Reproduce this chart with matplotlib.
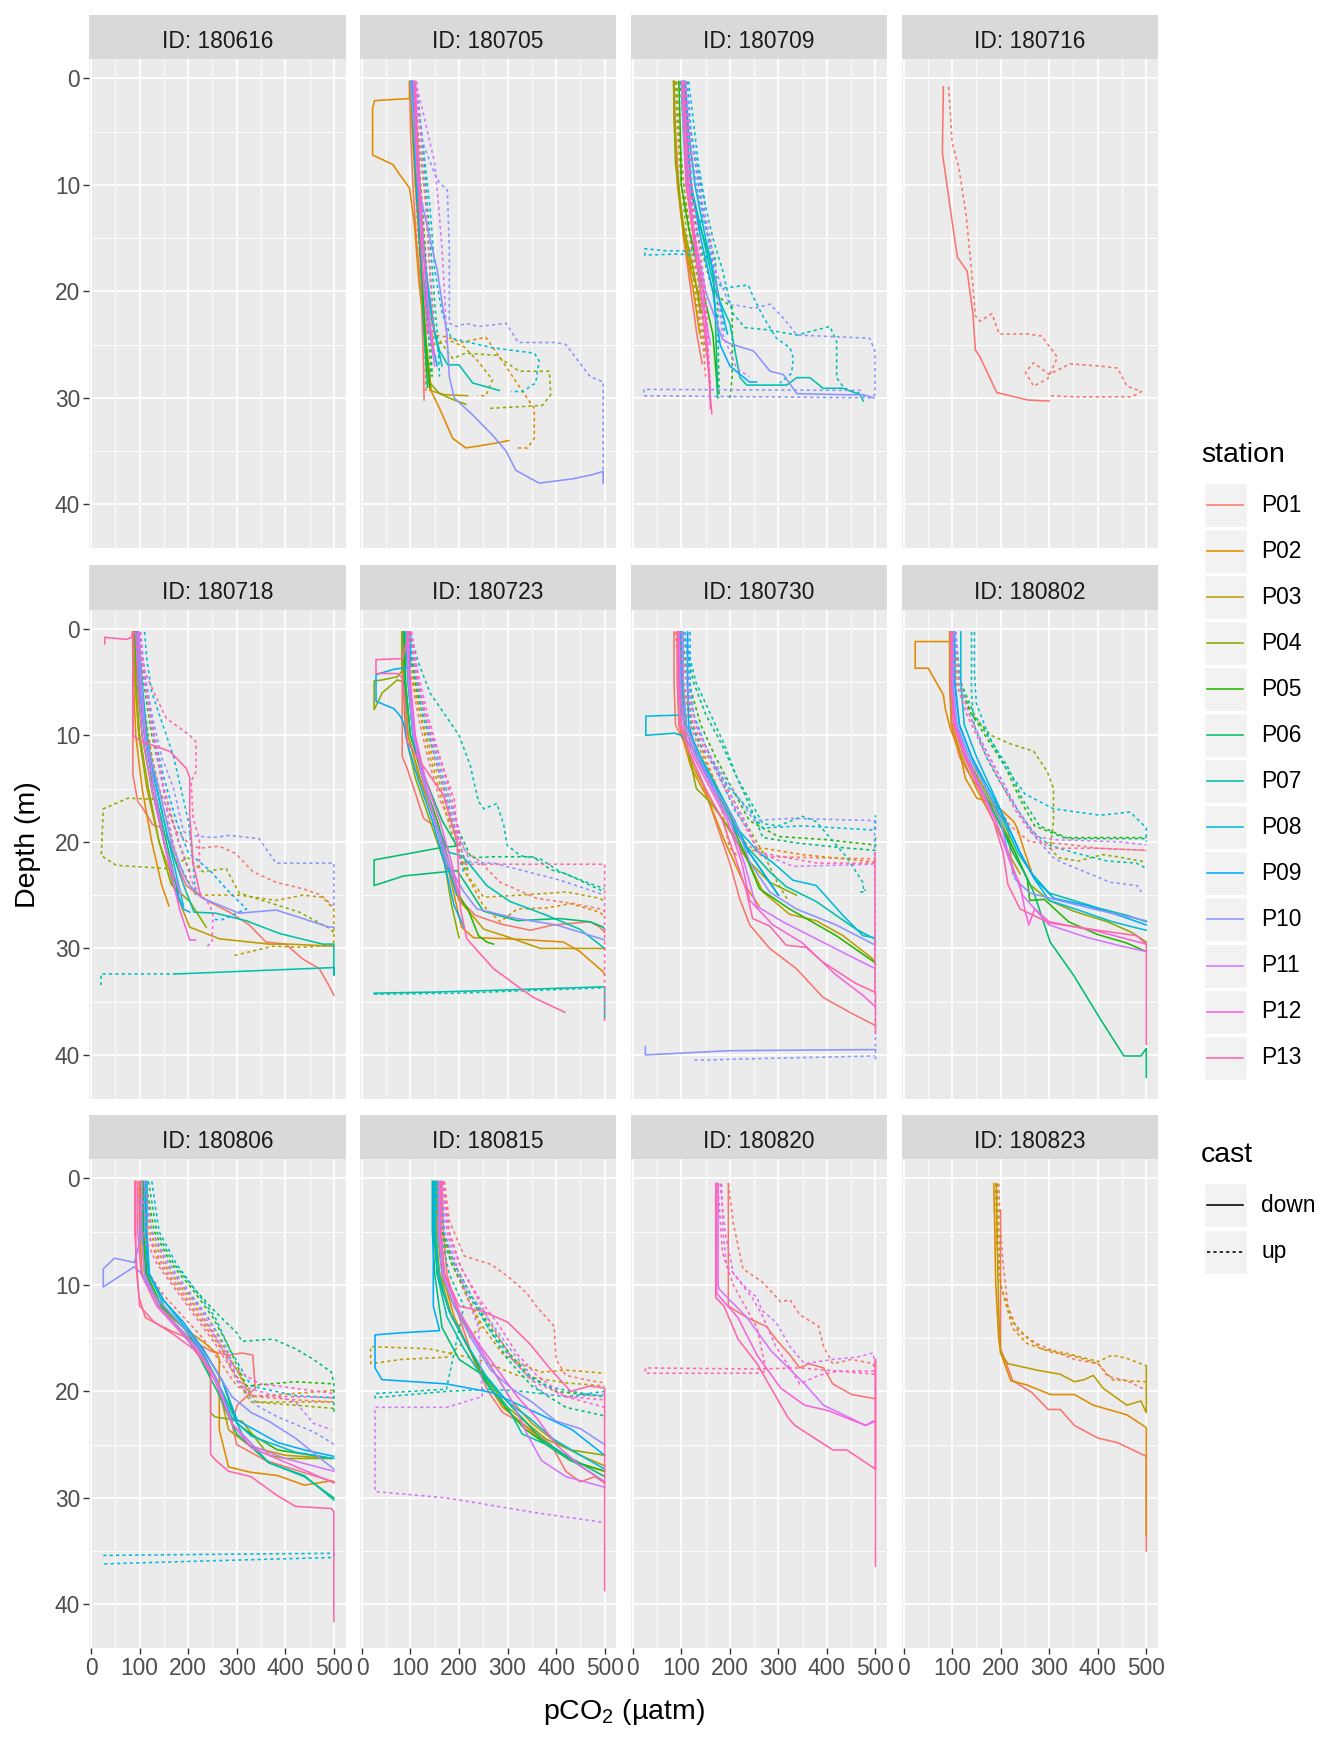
import matplotlib
matplotlib.use("Agg")
import matplotlib.pyplot as plt
from matplotlib.patches import Rectangle

plt.rcParams["font.family"] = ["Liberation Sans", "DejaVu Sans"]
plt.rcParams["mathtext.fontset"] = "custom"
plt.rcParams["mathtext.rm"] = "Liberation Sans"

# ---- categories ----
stations = ["P01", "P02", "P03", "P04", "P05", "P06", "P07",
            "P08", "P09", "P10", "P11", "P12", "P13"]
station_colors = ["#F8766D", "#E18A00", "#BE9C00", "#8CAB00", "#24B700", "#00BE70", "#00C1AB",
                  "#00BBDA", "#00ACFC", "#8B93FF", "#D575FE", "#F962DD", "#FF65AC"]
casts = ["down", "up"]
panel_ids = ["180616", "180705", "180709", "180716",
             "180718", "180723", "180730", "180802",
             "180806", "180815", "180820", "180823"]

# ---- profiles: (station, cast, pCO2, depth) ----
d180616 = []

d180705 = [
    ("P01", "down", [98, 100, 105, 112, 122, 127, 128], [0.3, 5, 10, 15, 20, 27, 30.2]),
    ("P01", "up", [100, 104, 110, 116, 125, 130, 132], [0.3, 5, 10, 15, 20, 26, 29.5]),
    ("P02", "down", [98, 98, 26, 22, 22, 64, 77, 98, 108, 118, 136, 143, 160, 187, 214, 269, 303],
     [0.3, 1.9, 2.1, 2.8, 7.2, 8.1, 9.0, 10.3, 13.7, 19.4, 26.3, 29.4, 31, 33.8, 34.7, 34.3, 34.0]),
    ("P02", "up", [102, 108, 115, 125, 135, 177, 205, 255, 290, 331, 355, 355, 341, 317],
     [0.3, 5, 10, 18, 24, 24.3, 24.8, 24.3, 26.6, 29.4, 31, 33.8, 34.7, 34.7]),
    ("P03", "down", [100, 104, 110, 118, 125, 132, 140, 170, 218], [0.3, 5, 10, 15, 20, 26, 29.3, 29.7, 29.8]),
    ("P03", "up", [104, 112, 125, 135, 150, 180, 210, 238, 269, 255, 238],
     [0.3, 6, 12, 20, 25, 24.6, 25.2, 26.5, 28.3, 29.8, 29.8]),
    ("P04", "down", [100, 105, 112, 120, 128, 138, 160, 190, 214], [0.3, 5, 10, 15, 22, 28.5, 29.6, 30.2, 30.6]),
    ("P04", "up", [106, 118, 132, 140, 150, 187, 214, 276, 324, 386, 389, 372, 259],
     [0.3, 6, 12, 18, 24, 26.3, 25.8, 26.0, 27.5, 27.5, 29.7, 30.7, 31]),
    ("P05", "down", [102, 106, 112, 120, 125, 132, 140], [0.3, 5, 10, 16, 20, 25, 29]),
    ("P05", "up", [105, 112, 120, 130, 138, 145], [0.3, 5, 10, 16, 22, 28]),
    ("P06", "down", [103, 108, 115, 122, 128, 135], [0.3, 6, 12, 18, 24, 29]),
    ("P06", "up", [108, 118, 128, 135, 142], [0.3, 8, 16, 22, 28]),
    ("P07", "down", [104, 110, 118, 130, 145, 160, 177, 200, 228, 283],
     [0.3, 6, 12, 18, 23, 25.6, 26.9, 26.9, 28.6, 29.3]),
    ("P07", "up", [110, 125, 135, 145, 155, 160], [0.3, 6, 12, 18, 24, 28]),
    ("P08", "down", [105, 112, 120, 132, 150, 165], [0.3, 6, 12, 18, 24, 27]),
    ("P08", "up", [112, 125, 140, 150, 165, 184, 269, 355, 365, 358, 331, 307],
     [0.3, 6, 12, 18, 22, 24.4, 25.3, 25.8, 26.5, 28.6, 29.4, 29.4]),
    ("P09", "down", [103, 108, 115, 125, 140, 155], [0.3, 6, 12, 18, 24, 27]),
    ("P10", "down", [100, 108, 115, 135, 155, 175, 180, 190, 228, 269, 297, 317, 365, 434, 475, 497, 497],
     [0.3, 5, 10, 14, 18, 24, 28, 30, 31.6, 33.5, 35, 36.8, 38, 37.6, 37.2, 36.9, 38]),
    ("P10", "up", [105, 115, 125, 150, 160, 176, 180, 180, 195, 215, 240, 297, 322, 400, 420, 470, 497, 497],
     [0.3, 3, 6, 9, 9.8, 10.5, 16, 23, 23.3, 23, 23.3, 23, 24.8, 24.8, 25, 28, 28.5, 38]),
    ("P11", "down", [106, 112, 120, 130, 140, 150], [0.3, 6, 12, 18, 24, 27]),
    ("P11", "up", [110, 125, 140, 150, 158, 165, 170, 175], [0.3, 3, 6, 8, 12, 16, 20, 25]),
    ("P12", "down", [110, 115, 122, 130, 140, 150], [0.3, 6, 12, 18, 23, 26]),
    ("P12", "up", [112, 122, 132, 140, 148], [0.3, 6, 12, 18, 24]),
    ("P13", "down", [108, 112, 118, 125, 135], [0.3, 6, 12, 18, 24]),
]

d180709 = [
    ("P01", "down", [85, 88, 95, 105, 120, 132, 143], [0.3, 5, 10, 15, 20, 24, 26.8]),
    ("P01", "up", [90, 95, 105, 118, 132, 145, 150], [0.3, 5, 10, 15, 20, 25, 28]),
    ("P02", "down", [84, 86, 92, 105, 125, 138], [0.3, 5, 10, 15, 20, 24]),
    ("P03", "down", [84, 86, 90, 100, 120, 135, 140], [0.3, 4, 8, 13, 18, 20, 22]),
    ("P03", "up", [88, 92, 100, 112, 128, 142], [0.3, 5, 10, 15, 20, 25]),
    ("P04", "down", [85, 86, 88, 105, 125, 140], [0.3, 4, 8, 14, 18, 22]),
    ("P04", "up", [90, 95, 105, 120, 138, 150], [0.3, 5, 10, 15, 20, 26]),
    ("P05", "down", [95, 98, 100, 115, 130, 150, 165, 175], [0.3, 5, 10, 14, 17, 21, 24, 29.5]),
    ("P05", "up", [98, 105, 115, 135, 165, 190, 205, 205, 200], [0.3, 5, 10, 15, 20, 21, 21.5, 28, 30]),
    ("P06", "down", [100, 105, 115, 140, 165, 170, 175], [0.3, 5, 10, 14, 18, 22, 30]),
    ("P06", "up", [100, 115, 130, 150, 170, 175, 178], [0.3, 5, 10, 14, 17, 22, 30]),
    ("P07", "down", [105, 110, 120, 145, 170, 190, 200, 221, 235, 317, 338, 365, 392, 433, 468, 475],
     [0.3, 5, 10, 15, 20, 22, 23, 28.1, 28.8, 28.8, 28.1, 28.1, 29.1, 29.1, 29.7, 30.3]),
    ("P07", "up", [105, 120, 140, 165, 185, 205, 231, 276, 338, 406, 420, 420, 436, 475, 480],
     [0.3, 5, 10, 15, 18, 22, 23.4, 23.6, 24.1, 23.3, 24.7, 28.1, 29.1, 29.7, 30.2]),
    ("P08", "down", [108, 115, 128, 150, 175, 195], [0.3, 5, 10, 15, 20, 24]),
    ("P08", "up", [115, 125, 135, 150, 122, 70, 25, 25, 90, 150, 170, 187, 238, 249, 269, 296, 324, 331, 327, 303],
     [0.3, 4, 8, 12, 16.2, 16.2, 16.0, 16.6, 16.5, 16.6, 19, 19.7, 19.4, 20.6, 22.4, 24.4, 25.3, 26.3, 27.7, 28.6]),
    ("P09", "down", [108, 112, 120, 140, 165, 180, 200, 240, 255], [0.3, 5, 10, 15, 20, 25, 27, 28.5, 28.5]),
    ("P09", "up", [112, 120, 135, 155, 175, 190], [0.3, 5, 10, 15, 20, 24]),
    ("P10", "down", [100, 104, 110, 128, 150, 185, 200, 249, 283, 310, 338, 434, 475, 497],
     [0.3, 5, 10, 15, 20, 24.5, 24.9, 25.6, 27.5, 27.8, 29.6, 29.7, 29.7, 30]),
    ("P10", "up", [104, 115, 130, 150, 170, 200, 214, 250, 283, 310, 338, 488, 499, 499, 490, 23, 23, 470],
     [0.3, 5, 10, 14, 18, 21.3, 21.3, 21.6, 21.2, 22.5, 24.1, 24.4, 25.6, 29.7, 30.0, 29.8, 29.2, 29.3]),
    ("P11", "down", [102, 106, 112, 125, 140, 160], [0.3, 5, 10, 15, 20, 25]),
    ("P11", "up", [110, 118, 130, 145, 160, 185, 215, 240], [0.3, 5, 8, 12, 15, 24, 27.3, 28]),
    ("P12", "down", [104, 110, 115, 128, 145, 158, 160], [0.3, 5, 10, 15, 20, 28, 31]),
    ("P12", "up", [108, 115, 122, 135, 150, 158], [0.3, 5, 10, 15, 20, 28]),
    ("P13", "down", [104, 107, 110, 125, 140, 157, 160, 163], [0.3, 5, 10, 15, 20, 28, 30, 31.5]),
    ("P13", "up", [106, 112, 118, 130, 148, 160], [0.3, 5, 10, 15, 20, 29]),
]

d180716 = [
    ("P01", "down", [82, 80, 100, 111, 131, 143, 148, 158, 192, 256, 300],
     [0.8, 7, 13.4, 16.8, 18.1, 22.1, 25.5, 26.2, 29.5, 30.2, 30.3]),
    ("P01", "up", [93, 100, 114, 129, 143, 148, 158, 182, 197, 256, 285, 317, 297, 268, 251, 268, 300, 343,
                   402, 441, 460, 490, 470, 353, 300],
     [0.8, 6, 8.4, 12.8, 19.5, 22.3, 22.8, 22.1, 24, 24, 24.2, 26.2, 28.2, 28.9, 27.6, 26.7, 27.8, 26.8,
      27, 27.2, 28.9, 29.4, 29.9, 29.9, 29.8]),
]

d180718 = [
    ("P01", "down", [86, 86, 96, 107, 127, 141, 162, 175, 196, 230, 285, 326, 360, 401, 436, 470, 490, 500],
     [0.3, 13.7, 16.2, 16.9, 18.4, 18.6, 20, 21.9, 24.1, 25.3, 26.6, 27.8, 29.4, 29.6, 31, 31.9, 33.5, 34.4]),
    ("P01", "up", [90, 100, 115, 140, 175, 205, 223, 264, 298, 333, 381, 436, 474, 497],
     [0.3, 5, 10, 15, 19, 20.3, 20.6, 20.4, 21.1, 22.8, 23.8, 24.4, 25, 26]),
    ("P02", "down", [85, 87, 92, 105, 125, 145, 160], [0.3, 5, 10, 15, 20, 24, 26]),
    ("P03", "down", [88, 90, 98, 115, 140, 162, 168, 203, 264, 367, 408, 500],
     [0.3, 5, 10, 15, 20, 22.8, 24, 28, 29.1, 29.6, 29.6, 29.8]),
    ("P03", "up", [92, 105, 125, 150, 180, 216, 305, 381, 436, 477, 500, 500, 436, 374, 292],
     [0.3, 6, 12, 17, 22, 25, 25, 25.5, 25, 25.2, 26.3, 29.7, 29.9, 29.8, 30.7]),
    ("P04", "down", [88, 92, 100, 118, 140, 165, 203, 237], [0.3, 5, 10, 15, 20, 24, 25.6, 28]),
    ("P04", "up", [95, 105, 120, 127, 76, 25, 21, 52, 155, 162, 200, 230, 278, 305, 374, 429, 490, 500],
     [0.3, 6, 12, 16, 15.9, 16.9, 21.3, 22.2, 22.5, 22.3, 21.5, 22.8, 22.5, 24.8, 25.8, 26.6, 28.1, 28.5]),
    ("P05", "down", [90, 95, 105, 125, 150, 175], [0.3, 5, 10, 15, 20, 24]),
    ("P05", "up", [95, 108, 125, 150, 180, 205], [0.3, 5, 10, 15, 20, 23]),
    ("P06", "down", [92, 98, 110, 130, 155, 180], [0.3, 5, 10, 15, 20, 25]),
    ("P07", "down", [95, 100, 112, 135, 160, 190, 212, 257, 319, 388, 477, 500, 500, 500, 175],
     [0.3, 5, 10, 15, 20, 24, 26.6, 26.7, 27.4, 28.6, 29.6, 29.6, 32.5, 31.8, 32.4]),
    ("P07", "up", [175, 21, 21], [32.4, 32.4, 33.4]),
    ("P08", "down", [98, 105, 115, 130, 150, 170, 190], [0.3, 5, 10, 14, 18, 22, 26]),
    ("P08", "up", [110, 115, 125, 140, 155, 170, 185, 200, 210, 215], [0.3, 3, 6, 8, 10, 12, 15, 18, 22, 25]),
    ("P09", "down", [96, 100, 110, 130, 150, 170, 190, 203], [0.3, 5, 10, 15, 20, 24, 26.3, 26.6]),
    ("P09", "up", [100, 112, 130, 150, 175, 200, 245, 280, 320, 270, 250],
     [0.3, 5, 10, 14, 18, 21, 22.7, 24.5, 26.3, 27.3, 27.3]),
    ("P10", "down", [96, 100, 110, 128, 145, 165, 190, 203, 230, 305, 381, 436, 490, 500],
     [0.3, 5, 10, 13, 16, 20, 23, 24.1, 25.3, 26.7, 26.4, 27.2, 28, 28]),
    ("P10", "up", [100, 110, 125, 145, 170, 190, 203, 250, 285, 346, 381, 500, 500],
     [0.3, 4, 8, 12, 15, 19, 19.4, 19.6, 19.4, 19.7, 22, 22, 26.3]),
    ("P11", "down", [98, 103, 112, 130, 150, 170, 185], [0.3, 5, 10, 15, 20, 23, 25]),
    ("P11", "up", [102, 112, 128, 148, 168, 190], [0.3, 5, 10, 15, 20, 24]),
    ("P12", "down", [92, 96, 105, 125, 150, 170, 182, 203, 215], [0.3, 5, 10, 15, 20, 24, 26.3, 29.2, 29.2]),
    ("P12", "up", [100, 110, 130, 150, 180, 210, 245, 251, 249, 237], [0.3, 5, 10, 15, 20, 24, 26, 26.9, 29.4, 29.9]),
    ("P13", "down", [28, 28, 73, 83, 86, 86, 100, 162, 196, 203, 203, 210, 225],
     [1.4, 0.8, 1.0, 0.8, 0.3, 10, 10.5, 11.5, 13.1, 14, 17.5, 22, 25]),
    ("P13", "up", [90, 110, 140, 155, 203, 216, 216, 206, 210, 223, 223],
     [0.3, 4, 7, 8.4, 10, 10.6, 13.4, 14.3, 17.8, 19.7, 22.8]),
]

d180723 = [
    ("P01", "down", [83, 83, 93, 107, 127, 155, 175, 189, 203, 234, 285, 347, 394, 470, 490, 500],
     [0.3, 12, 13.1, 15, 17.8, 18.7, 22.5, 23.6, 25.5, 26.9, 27.7, 28.3, 27.8, 27.5, 28, 28.5]),
    ("P01", "up", [90, 100, 115, 135, 160, 190, 215, 237, 285, 360, 436, 490, 500],
     [0.3, 4, 8, 12, 16, 19, 21, 21.6, 23.8, 25.3, 25.8, 26.3, 26.5]),
    ("P02", "down", [85, 86, 95, 120, 150, 175, 195, 205, 230, 305, 415, 449, 497, 500],
     [0.3, 5, 10, 14, 18, 22, 26, 28, 29, 29.1, 29.4, 30.3, 32.2, 32.5]),
    ("P02", "up", [92, 100, 120, 145, 170, 195, 215, 250, 285, 320, 381, 429, 490, 500],
     [0.3, 4, 8, 12, 16, 20, 23, 26, 27.5, 26.3, 26.2, 25.8, 26.6, 27]),
    ("P03", "down", [86, 88, 95, 118, 150, 175, 200, 220, 251, 299, 367, 490, 500],
     [0.3, 5, 10, 14, 18, 22, 25.5, 26.5, 28.2, 28.9, 30, 30, 30]),
    ("P03", "up", [94, 105, 120, 140, 165, 190, 215, 251, 326, 422, 490, 500],
     [0.3, 4, 8, 12, 16, 20, 23, 25.2, 25, 24.7, 25.3, 25.6]),
    ("P04", "down", [82, 82, 73, 42, 25, 25, 42, 73, 85, 90, 110, 140, 170, 185, 200],
     [0.3, 4, 4.5, 4.8, 4.9, 7.6, 6, 4.8, 5, 10, 14, 18, 22, 26, 29]),
    ("P05", "down", [88, 90, 100, 125, 155, 180, 200, 220, 240, 257, 271],
     [0.3, 5, 10, 14, 18, 22, 25, 26.5, 28.8, 29.4, 29.6]),
    ("P05", "up", [95, 105, 125, 150, 175, 200, 220], [0.3, 4, 8, 12, 16, 20, 23]),
    ("P06", "down", [86, 88, 100, 130, 165, 196, 168, 25, 25, 86, 196, 215, 250, 320, 408, 470, 497, 500],
     [0.3, 5, 10, 14, 18, 20.4, 20.5, 21.7, 24.1, 23.2, 22.7, 24, 26.5, 27.4, 27.2, 27.5, 28, 28.2]),
    ("P06", "up", [98, 110, 130, 155, 180, 200, 225, 271, 353, 388, 420, 500],
     [0.3, 4, 8, 12, 16, 19, 21.5, 21.4, 21.4, 22.6, 23, 24.7]),
    ("P07", "down", [92, 95, 105, 125, 150, 180, 205, 220, 257, 305, 381, 449, 500],
     [0.3, 5, 10, 14, 18, 21, 21.3, 22, 24.1, 25.6, 26.9, 28.2, 30]),
    ("P07", "down", [25, 150, 300, 500, 500], [34.2, 34.1, 33.9, 33.6, 36.5]),
    ("P07", "up", [25, 200, 500], [34.3, 34.2, 33.7]),
    ("P07", "up", [100, 115, 140, 170, 200, 223, 240, 251, 278, 292, 299, 326, 367, 408, 463, 500],
     [0.3, 3, 6, 8, 10, 12.8, 16.2, 16.9, 16.4, 18.4, 20.3, 21.3, 21.6, 22.8, 23.8, 24.4]),
    ("P08", "down", [90, 95, 105, 125, 150, 175, 195], [0.3, 5, 10, 14, 18, 22, 25]),
    ("P08", "up", [98, 108, 125, 150, 175, 195, 210], [0.3, 4, 8, 12, 16, 20, 23]),
    ("P09", "down", [100, 100, 66, 29, 29, 66, 79, 86, 95, 115, 145, 170, 190, 210],
     [0.3, 3.6, 3.8, 4.3, 6.8, 7.5, 8.2, 8.9, 11, 14, 18, 22, 26, 28]),
    ("P10", "down", [95, 98, 108, 128, 150, 175, 195, 210, 237, 319, 401, 500],
     [0.3, 5, 10, 14, 18, 22, 23.5, 24.7, 26.3, 27.2, 27.8, 29.2]),
    ("P10", "up", [100, 112, 130, 155, 180, 205, 223, 271, 340, 408, 500],
     [0.3, 4, 8, 12, 16, 20, 21.9, 22.0, 22.8, 23.6, 25]),
    ("P11", "down", [92, 96, 106, 125, 150, 180, 200], [0.3, 5, 10, 14, 18, 22, 25]),
    ("P11", "up", [100, 112, 130, 150, 175, 200, 215], [0.3, 4, 8, 12, 16, 20, 22]),
    ("P12", "down", [95, 100, 110, 130, 160, 185, 200], [0.3, 5, 10, 14, 18, 22, 25]),
    ("P12", "up", [102, 115, 135, 160, 185, 205], [0.3, 4, 8, 12, 16, 20]),
    ("P13", "down", [98, 83, 29, 29, 73, 83, 90, 93, 120, 168, 196, 203, 216, 271, 319, 353, 418],
     [0.3, 2.8, 2.9, 4.2, 4.2, 4.6, 8, 10.6, 12.5, 15.6, 20, 26.3, 29.1, 31.9, 33.5, 34.6, 36]),
    ("P13", "up", [100, 110, 130, 160, 190, 203, 300, 500, 500], [0.3, 4, 8, 12, 16, 22.1, 22.1, 22.1, 36.9]),
]

d180730 = [
    ("P01", "down", [85, 85, 88, 110, 140, 170, 200, 220, 241, 282, 337, 392, 447, 498, 500],
     [0.3, 5, 9, 11, 14, 18, 22, 25.3, 27.8, 30, 31.9, 34.6, 36, 37.2, 37.2]),
    ("P01", "up", [88, 95, 110, 135, 165, 195, 230, 268, 400, 500], [0.3, 4, 8, 11, 14, 17, 20, 21.4, 21.5, 21.6]),
    ("P02", "down", [92, 92, 95, 120, 155, 190, 210, 230, 260], [0.3, 5, 9, 13, 16, 20, 22, 24, 26]),
    ("P02", "up", [95, 100, 115, 140, 175, 199, 213, 268, 350, 500], [0.3, 4, 8, 11, 15, 20.5, 21.2, 20.6, 21.2, 21.9]),
    ("P03", "down", [94, 95, 100, 125, 160, 200, 240, 268, 323, 378, 433, 495, 500],
     [0.3, 5, 9, 13, 16, 19, 22, 24.7, 26.8, 27.4, 28.8, 31, 31.5]),
    ("P04", "down", [93, 95, 113, 131, 158, 199, 241, 282, 337], [0.3, 5, 11.2, 15, 16.2, 18.7, 21.9, 23.8, 25]),
    ("P04", "up", [98, 110, 130, 160, 195, 230, 268, 300, 320], [0.3, 5, 9, 12, 15, 18, 21, 24, 25.5]),
    ("P05", "down", [96, 98, 105, 130, 165, 200, 230, 261, 323, 419, 498, 500],
     [0.3, 5, 9, 12, 15, 18, 21, 24.4, 26.3, 28.8, 31.3, 31.5]),
    ("P05", "up", [100, 115, 140, 170, 205, 240, 300, 400, 500], [0.3, 5, 9, 12, 15, 18, 19.5, 19.8, 20.3]),
    ("P06", "down", [98, 100, 110, 135, 170, 205, 240, 270, 300], [0.3, 5, 9, 12, 15, 18, 21, 23, 25]),
    ("P06", "up", [102, 125, 150, 185, 215, 245, 268, 337, 420, 500, 500],
     [0.3, 5, 8, 11, 14, 17, 19.6, 20.1, 20.5, 20.8, 19.5]),
    ("P07", "down", [100, 102, 110, 140, 175, 210, 234, 282, 316, 378, 419, 460, 498, 500],
     [0.3, 5, 9, 12, 15, 18, 20.4, 22.8, 24.2, 25.6, 26.9, 28.2, 29.1, 29.5]),
    ("P07", "up", [105, 130, 160, 190, 215, 240, 268, 300, 350, 378, 440, 474, 476, 470, 480],
     [0.3, 5, 8, 11, 14, 16, 18.3, 18.5, 17.6, 18.1, 21.4, 23.8, 24.7, 24.7, 24.5]),
    ("P08", "down", [100, 100, 27, 27, 86, 100, 120, 150, 185, 220, 260, 290, 330, 378, 433, 474, 498],
     [0.3, 8.1, 8.2, 10, 9.8, 10, 11, 13, 16, 19, 21, 22, 23.6, 24.1, 26.9, 28.8, 29]),
    ("P08", "up", [113, 115, 120, 140, 170, 200, 240, 268, 350, 500, 500],
     [0.3, 5, 9, 11, 13, 15, 17, 18.7, 18.5, 18.9, 17.5]),
    ("P09", "down", [113, 113, 115, 135, 165, 200, 240, 270, 300], [0.3, 5, 9, 12, 15, 18, 21, 23, 25]),
    ("P09", "up", [118, 118, 125, 150, 180, 210, 240], [0.3, 5, 8, 11, 14, 17, 19]),
    ("P10", "down", [104, 104, 110, 135, 170, 210, 241, 282, 337, 419, 500],
     [0.3, 5, 9, 12, 15, 18, 21.9, 24.7, 26.3, 27.8, 29.7]),
    ("P10", "down", [26, 26, 200, 498, 500], [39.2, 40.0, 39.6, 39.5, 39.5]),
    ("P10", "up", [108, 115, 130, 160, 190, 220, 250, 323, 498, 500], [0.3, 5, 9, 12, 14, 16, 18, 17.8, 18, 40.5]),
    ("P10", "up", [127, 300, 498], [40.5, 40.3, 40.1]),
    ("P11", "down", [96, 98, 105, 130, 165, 200, 230, 254, 309, 378, 447, 495],
     [0.3, 5, 9, 12, 15, 18, 22, 26, 27.5, 29.1, 30.7, 31.8]),
    ("P11", "up", [100, 110, 130, 160, 195, 230, 260, 330, 495], [0.3, 5, 9, 12, 15, 18, 21, 22.3, 22.1]),
    ("P12", "down", [94, 95, 100, 125, 160, 195, 225, 241, 289, 350, 419, 474, 498],
     [0.3, 5, 9, 12, 15, 18, 22, 25.5, 27.8, 29.5, 32.5, 34.4, 35.4]),
    ("P13", "down", [92, 92, 96, 120, 150, 185, 215, 234, 247, 282, 316, 357, 392, 433, 460, 498, 500, 500],
     [0.3, 5, 9, 12, 15, 18, 22, 24.6, 27.2, 27.9, 29.7, 29.9, 31.3, 32.5, 33.3, 34.1, 34.1, 38]),
    ("P13", "down", [500, 500], [21, 34]),
    ("P13", "up", [95, 105, 125, 155, 190, 225, 260, 380, 500], [0.3, 5, 9, 12, 15, 18, 21, 22, 22]),
]

d180802 = [
    ("P01", "down", [95, 95, 98, 115, 140, 170, 200, 215, 220, 225], [0.3, 5, 9, 12, 14, 16, 17.5, 18.5, 21, 23]),
    ("P01", "up", [98, 100, 110, 130, 160, 190, 220, 260, 330, 400, 500],
     [0.3, 5, 9, 12, 14.5, 16.5, 18.5, 20, 20.2, 20.6, 20.8]),
    ("P02", "down", [96, 96, 24, 24, 51, 82, 86, 96, 117, 127, 151, 172, 199, 227, 234, 250, 265],
     [0.3, 1.2, 1.2, 3.7, 3.7, 6.2, 7.5, 9.3, 11.8, 14, 15.9, 16.2, 16.9, 18.1, 18.7, 21, 23]),
    ("P03", "down", [95, 95, 100, 120, 150, 185, 215, 240], [0.3, 5, 9, 12, 15, 18, 21, 23]),
    ("P04", "down", [97, 98, 105, 130, 165, 200, 230, 260, 300, 350, 420, 470, 500],
     [0.3, 5, 9, 12, 15, 18, 21, 24, 25.5, 26.5, 27.5, 28.5, 29.4]),
    ("P04", "up", [102, 110, 140, 180, 220, 268, 296, 309, 309, 302, 320, 360, 410, 440, 500],
     [0.3, 5, 8, 10, 10.8, 11.5, 13.4, 15, 18, 20.6, 21.5, 21.8, 21.2, 21.4, 21.9]),
    ("P05", "down", [98, 99, 105, 125, 160, 195, 230, 255, 260, 290, 340, 400, 460, 500],
     [0.3, 5, 9, 12, 15, 18, 21, 23.5, 25.5, 25.4, 27.5, 28.7, 29.5, 30.3]),
    ("P05", "up", [104, 115, 140, 175, 210, 240, 270, 330, 500], [0.3, 5, 8, 10.5, 13, 16, 18.5, 19.6, 19.6]),
    ("P06", "down", [100, 100, 108, 130, 160, 195, 225, 250, 268, 302, 350, 405, 454, 489, 500, 500],
     [0.3, 5, 9, 12, 15, 18, 21, 23, 24.7, 29.4, 32.5, 36.6, 40.1, 40.1, 39.4, 42.1]),
    ("P06", "up", [106, 118, 145, 180, 215, 245, 280, 340, 500], [0.3, 5, 8, 10.5, 13, 16, 18.5, 19.7, 19.7]),
    ("P07", "down", [104, 105, 115, 140, 170, 205, 235, 265, 300, 350, 400, 460, 500],
     [0.3, 5, 9, 12, 15, 18, 21, 23, 24.8, 25.5, 26.2, 26.9, 27.5]),
    ("P07", "up", [140, 140, 145, 170, 200, 235, 265, 300, 350, 420, 480, 500],
     [0.3, 6, 9, 12, 14.5, 17, 19, 20.3, 21, 21.8, 22, 22.5]),
    ("P08", "down", [118, 118, 125, 150, 180, 210, 240, 270, 300, 360, 430, 500],
     [0.3, 5, 9, 12, 15, 18, 21, 23.5, 25.5, 26.4, 27.5, 28.3]),
    ("P08", "up", [146, 146, 150, 175, 210, 250, 309, 405, 467, 500, 500],
     [0.3, 4, 7, 10, 13, 15.5, 16.9, 17.5, 17.2, 18.7, 20]),
    ("P09", "down", [105, 106, 115, 140, 175, 210, 240, 270, 310, 380, 450, 500],
     [0.3, 5, 9, 12, 15, 18, 21, 23.5, 25.3, 26, 27, 27.8]),
    ("P10", "down", [102, 102, 110, 135, 170, 200, 215, 230, 260, 320, 400, 500],
     [0.3, 5, 9, 12, 15, 18, 21, 23.5, 24.8, 25.5, 26.4, 27.4]),
    ("P10", "up", [108, 115, 135, 165, 200, 235, 270, 309, 330, 378, 426, 481, 490],
     [0.3, 5, 8, 11, 14, 17, 19.5, 21.5, 22, 22.9, 23.8, 24.1, 24.7]),
    ("P11", "down", [100, 100, 108, 130, 160, 190, 215, 245, 300, 380, 450, 500],
     [0.3, 5, 9, 12, 15, 18, 21, 25, 27.8, 29, 29.8, 30.3]),
    ("P11", "up", [106, 115, 135, 165, 200, 235, 275, 309, 447, 500], [0.3, 5, 8, 11, 14, 17, 19.5, 19.8, 20, 20.3]),
    ("P12", "down", [98, 98, 105, 128, 158, 190, 220, 240, 250, 258, 270, 300, 400, 500],
     [0.3, 5, 9, 12, 15, 18, 22, 24, 26.4, 27.8, 26.3, 27.5, 28.4, 29.6]),
    ("P13", "down", [97, 97, 103, 125, 155, 185, 205, 215, 240, 300, 400, 480, 500, 500],
     [0.3, 5, 9, 12, 15, 18, 21, 24, 26.3, 27.6, 28.3, 28.8, 29.6, 39]),
    ("P13", "up", [100, 108, 130, 160, 195, 230, 260, 300, 400, 500], [0.3, 5, 8, 11, 14, 17, 19, 20.6, 20.6, 20.8]),
]

d180806 = [
    ("P01", "down", [92, 92, 99, 112, 163, 200, 246, 283, 311, 333, 338, 301, 290, 300, 360, 430, 500],
     [0.3, 8, 11.2, 13.1, 14.3, 15, 16.2, 16.6, 16.4, 16.6, 19.7, 21.3, 23, 25, 26.5, 27.5, 28.5]),
    ("P01", "up", [100, 105, 120, 150, 190, 230, 270, 300, 340, 420, 500],
     [0.3, 5, 9, 11, 13, 15, 17.5, 19.5, 20.5, 20.8, 21]),
    ("P02", "down", [100, 100, 105, 140, 190, 235, 260, 264, 264, 283, 329, 384, 439, 495, 500],
     [0.3, 5, 9, 12, 14, 15.5, 16.5, 17, 23.6, 27.1, 27.6, 27.9, 28.8, 28.4, 28.5]),
    ("P02", "up", [104, 115, 140, 180, 220, 260, 300, 329, 420, 500], [0.3, 5, 8, 10.5, 13, 15.5, 18, 20.5, 20.2, 19.9]),
    ("P03", "down", [102, 103, 110, 140, 180, 225, 260, 283, 329, 400, 495],
     [0.3, 5, 9, 12, 14, 16, 19, 23.6, 25.2, 26, 26.3]),
    ("P03", "up", [108, 120, 150, 190, 230, 270, 300, 329, 500], [0.3, 5, 8, 10.5, 13, 16, 19, 21, 21]),
    ("P04", "down", [105, 106, 112, 140, 180, 220, 246, 246, 255, 311, 366, 400, 495],
     [0.3, 5, 9, 12, 14, 16, 18.5, 22, 22.4, 22.8, 26, 26.3, 26.3]),
    ("P04", "up", [110, 125, 155, 195, 240, 270, 300, 340, 500], [0.3, 5, 8, 10.5, 13, 15.5, 18, 21, 21.6]),
    ("P05", "down", [108, 108, 115, 145, 190, 230, 270, 300, 329, 384, 495],
     [0.3, 5, 9, 12, 14, 16, 19, 23, 24, 25.5, 26.3]),
    ("P05", "up", [112, 130, 165, 210, 250, 280, 320, 421, 500], [0.3, 5, 8, 10.5, 13, 15.5, 19.5, 19.1, 19.3]),
    ("P06", "down", [106, 106, 112, 140, 180, 220, 260, 300, 366, 439, 500],
     [0.3, 5, 9, 12, 14, 16.5, 20, 24, 26.7, 28, 30]),
    ("P06", "up", [118, 135, 170, 215, 255, 300, 311, 375, 421, 458, 495, 500, 500],
     [0.3, 5, 8, 10.5, 12.5, 14.5, 15.3, 15.1, 16, 17, 18.2, 19.3, 22]),
    ("P07", "down", [112, 112, 120, 150, 190, 230, 270, 311, 366, 439, 500],
     [0.3, 5, 9, 12, 14, 16.5, 20, 24, 26.7, 27.9, 30.2]),
    ("P08", "down", [115, 115, 120, 150, 185, 225, 260, 290, 330, 420, 500],
     [0.3, 5, 9, 11.5, 13.5, 16, 19, 22.5, 24.2, 25.7, 26.3]),
    ("P08", "up", [125, 140, 175, 215, 255, 285, 330, 420, 500], [0.3, 5, 8, 10.5, 13, 16, 19.5, 20.4, 20.6]),
    ("P08", "up", [25, 250, 500, 500, 495, 250, 25], [35.4, 35.3, 35.2, 35.4, 35.6, 35.9, 36.2]),
    ("P09", "down", [112, 112, 118, 150, 190, 230, 270, 301, 384, 439, 500],
     [0.3, 5, 9, 11.5, 13.5, 16, 19, 22.7, 24.8, 25.5, 26.1]),
    ("P10", "down", [105, 100, 89, 48, 25, 25, 89, 105, 130, 170, 210, 250, 290, 330, 366, 421, 500],
     [0.3, 6, 7.9, 7.5, 8.5, 10.2, 8.3, 9, 11, 13, 15, 17.5, 20.5, 22, 22.8, 24.4, 27.3]),
    ("P10", "up", [110, 125, 160, 200, 240, 280, 301, 340, 384, 458, 495, 500],
     [0.3, 5, 8, 10.5, 13, 16, 19, 21.3, 22.4, 23.8, 24.8, 25]),
    ("P11", "down", [104, 104, 110, 140, 180, 220, 260, 290, 336, 400, 500],
     [0.3, 5, 9, 12, 14, 16, 19, 23, 25.2, 26.3, 27.5]),
    ("P11", "up", [110, 125, 155, 195, 235, 270, 310, 421, 458, 495], [0.3, 5, 8, 10.5, 13, 16, 19.5, 21, 23, 23.6]),
    ("P12", "down", [96, 96, 103, 135, 175, 215, 255, 290, 330, 439, 500],
     [0.3, 5, 9, 12, 14, 16, 19, 23, 25.3, 27.4, 28.6]),
    ("P12", "up", [102, 115, 145, 185, 225, 265, 300, 347, 384, 500], [0.3, 5, 8, 10.5, 13, 15.5, 18, 19.3, 19.5, 20.2]),
    ("P13", "down", [90, 90, 95, 100, 130, 165, 210, 246, 246, 255, 283, 329, 384, 421, 495, 500, 500],
     [0.3, 5, 9, 12, 13.5, 14.5, 16, 18, 25.9, 26.4, 27.5, 28, 29.8, 30.8, 31, 31.3, 41.6]),
    ("P13", "up", [95, 105, 135, 175, 215, 255, 290, 330, 500], [0.3, 5, 8, 10.5, 13, 15.5, 18, 20.4, 20.6]),
]

d180815 = [
    ("P01", "down", [165, 168, 175, 200, 230, 260, 290, 330, 390, 420, 450, 480, 500],
     [0.3, 5, 9, 13, 17, 20, 22, 23, 25, 27.5, 28.5, 28, 28.6]),
    ("P01", "up", [170, 180, 211, 267, 303, 340, 359, 396, 400, 420, 470, 500],
     [0.3, 4, 7.3, 8.1, 9.3, 10.8, 12, 13.9, 17, 18.5, 19, 19.2]),
    ("P02", "down", [155, 155, 165, 190, 220, 255, 290, 330, 380, 430, 500], [0.3, 5, 9, 13, 16, 19, 21.5, 23, 25, 26.5, 27.5]),
    ("P02", "up", [158, 165, 185, 215, 250, 290, 330, 370, 420, 500], [0.3, 5, 8, 11, 14, 16.5, 17.5, 18.2, 18, 18.3]),
    ("P03", "down", [150, 150, 160, 190, 230, 270, 310, 350, 400, 450, 500], [0.3, 5, 9, 12, 15, 18, 21, 23, 24.8, 26, 27]),
    ("P03", "up", [158, 165, 185, 215, 245, 174, 82, 18, 18, 137, 240, 320, 420, 500],
     [0.3, 5, 8, 11, 14, 16.8, 17, 17.4, 15.8, 16, 17, 18.5, 19.2, 19.5]),
    ("P04", "down", [152, 152, 160, 185, 220, 260, 300, 340, 380, 430, 500], [0.3, 5, 9, 13, 16, 19, 21.5, 23, 24.5, 25.5, 26]),
    ("P05", "down", [148, 148, 155, 180, 215, 255, 295, 335, 380, 430, 500],
     [0.3, 5, 9, 12.5, 15.5, 19, 21.5, 23.5, 25, 26.5, 27.5]),
    ("P05", "up", [155, 165, 190, 225, 265, 305, 345, 400, 500], [0.3, 5, 8, 11, 14, 16.5, 18.5, 20, 20.5]),
    ("P06", "down", [145, 145, 150, 165, 200, 250, 290, 330, 370, 420, 500],
     [0.3, 5, 9, 14, 17, 18.5, 20.5, 22.5, 24.5, 26, 28]),
    ("P06", "up", [152, 160, 185, 220, 260, 300, 350, 420, 500], [0.3, 5, 8, 11, 14, 17, 19.5, 21.5, 22.3]),
    ("P07", "down", [150, 150, 155, 175, 210, 260, 300, 330, 380, 450, 500],
     [0.3, 5, 9, 13, 16, 19.5, 21.5, 24, 25, 27, 28.5]),
    ("P07", "up", [155, 160, 180, 210, 174, 27, 27, 174, 267, 330, 420, 500],
     [0.3, 5, 9, 12, 19.8, 20.2, 20.6, 20, 19.8, 20, 20.5, 20]),
    ("P08", "down", [152, 152, 158, 180, 215, 255, 300, 345, 395, 450, 500],
     [0.3, 5, 9, 12.5, 15.5, 18.5, 21, 22.5, 24.5, 26, 27.3]),
    ("P08", "up", [160, 168, 190, 225, 260, 300, 340, 380, 430, 500], [0.3, 5, 8, 11, 14, 16.5, 18.5, 19.5, 20, 20.5]),
    ("P09", "down", [147, 147, 160, 82, 27, 27, 41, 174, 267, 359, 433, 497, 500],
     [0.3, 12, 14.3, 14.5, 14.7, 17.8, 18.9, 19.3, 20.1, 22, 23.6, 25.9, 26]),
    ("P10", "down", [158, 158, 165, 190, 225, 265, 310, 350, 400, 450, 500],
     [0.3, 5, 9, 12, 15, 18, 19.8, 21, 22.8, 23.5, 25]),
    ("P10", "up", [165, 170, 190, 225, 265, 305, 340, 359, 380, 430, 500],
     [0.3, 5, 8, 11, 13.5, 16, 18, 19.6, 20.3, 20.5, 20.3]),
    ("P11", "down", [160, 160, 168, 195, 230, 270, 310, 340, 370, 420, 500],
     [0.3, 5, 9, 12, 15, 18, 21, 24, 26.5, 28, 29]),
    ("P11", "up", [165, 175, 200, 240, 248, 174, 27, 27, 174, 359, 497],
     [0.3, 5, 9, 14, 20.5, 21.5, 21.5, 29.4, 30, 31.4, 32.3]),
    ("P12", "down", [162, 162, 170, 200, 240, 280, 320, 360, 400, 450, 500],
     [0.3, 5, 9, 12.5, 15.5, 18, 20.5, 22.5, 25, 27, 28.5]),
    ("P12", "up", [168, 180, 205, 245, 285, 320, 360, 420, 500], [0.3, 5, 8.5, 11.5, 14, 16.5, 18.5, 20.5, 21.5]),
    ("P13", "down", [163, 163, 170, 200, 250, 300, 345, 390, 430, 470, 500, 500],
     [0.3, 5, 9, 12, 12.5, 13.5, 15.5, 18, 20, 19.5, 19.7, 38.7]),
    ("P13", "up", [168, 178, 200, 235, 270, 310, 350, 420, 500], [0.3, 5, 8, 11, 14, 17, 19, 20.5, 20.8]),
]

d180820 = [
    ("P01", "down", [197, 197, 236, 275, 295, 324, 344, 363, 393, 412, 451, 500],
     [0.5, 12, 13.1, 13.9, 15.1, 16.6, 17.8, 17.4, 17.8, 19.3, 20.3, 20.7]),
    ("P01", "up", [197, 207, 227, 266, 305, 324, 344, 383, 393, 412, 451, 495, 500],
     [0.5, 4.2, 8.5, 9.7, 11.6, 11.4, 12.8, 13.9, 15.8, 17.4, 17, 17.4, 18.2]),
    ("P11", "down", [176, 176, 178, 236, 285, 354, 393, 480, 495], [0.5, 10, 10.4, 13.1, 16.2, 19.3, 21.3, 23.2, 22.8]),
    ("P11", "up", [183, 186, 193, 227, 256, 266, 295, 324, 354, 412, 461, 495, 500],
     [0.5, 5, 8.1, 10, 11.2, 12.4, 13.5, 15.8, 17.4, 17, 16.8, 16.4, 17.8]),
    ("P12", "down", [173, 173, 217, 256, 305, 354, 402, 480, 500], [0.5, 10.8, 13.1, 16.6, 19.7, 21.3, 21.8, 23.2, 22.8]),
    ("P12", "up", [180, 190, 207, 246, 266, 295, 324, 344, 383, 422, 500],
     [0.5, 5, 8.9, 11.2, 12.8, 15.8, 17.8, 19.3, 18.5, 18.1, 18.1]),
    ("P13", "down", [171, 171, 188, 217, 256, 285, 319, 334, 412, 441, 500, 500, 500],
     [0.5, 11.2, 12, 15.1, 17.4, 19.7, 22.4, 23.2, 25.5, 25.5, 27.3, 17, 36.4]),
    ("P13", "up", [175, 185, 207, 236, 256, 266, 275, 256, 26, 26, 256, 344, 500],
     [0.5, 7, 10, 12.4, 14, 16.2, 18.1, 18.3, 18.3, 17.8, 17.9, 17.8, 18.4]),
]

d180823 = [
    ("P01", "down", [200, 200, 225, 264, 298, 323, 352, 401, 440, 500, 500],
     [3, 16, 19, 20.1, 21.7, 21.7, 23.2, 24.4, 24.8, 26.1, 35]),
    ("P01", "up", [196, 200, 205, 215, 235, 274, 313, 352, 401, 421, 460, 500],
     [0.5, 5, 8, 12, 14.3, 15.5, 16.3, 17, 17.4, 18.6, 19, 19.9]),
    ("P02", "down", [186, 188, 190, 196, 200, 221, 254, 303, 352, 391, 460, 500, 500],
     [0.5, 5, 10, 15, 16.4, 19, 19.4, 20.3, 20.3, 21.3, 22.2, 23.4, 33.5]),
    ("P02", "up", [190, 192, 200, 225, 254, 303, 352, 401, 430, 460, 500],
     [0.5, 6, 10, 14.1, 15.5, 16.3, 16.7, 17.4, 18.9, 19, 19.1]),
    ("P03", "down", [191, 193, 196, 200, 215, 274, 323, 352, 372, 391, 411, 460, 489, 500, 500],
     [0.5, 6, 12.4, 16.4, 17.4, 18, 18.4, 19.1, 18.9, 18.5, 19.7, 21.3, 20.9, 22, 17.6]),
    ("P03", "up", [193, 196, 200, 225, 255, 284, 333, 401, 430, 460, 500],
     [0.5, 5, 10, 13.5, 15, 16, 16.4, 17.2, 16.6, 16.9, 17.6]),
]

panels = [d180616, d180705, d180709, d180716, d180718, d180723,
          d180730, d180802, d180806, d180815, d180820, d180823]

# ---- layout (pixels) ----
W, H = 1344, 1747
fig = plt.figure(figsize=(W / 100, H / 100), dpi=100)

col_left = [89.2, 360.0, 630.8, 901.6]
panel_w = 256.3
strip_top = [14.5, 565.0, 1114.5]
strip_h = 44.6
panel_h = 489.0

BASE = 20.5
SMALL = 16.4
color_of = dict(zip(stations, station_colors))
dash_of = {"down": "-", "up": (0, (2, 2))}


def fig_rect(x, y, w, h):
    return [x / W, 1 - (y + h) / H, w / W, h / H]


for i, pid in enumerate(panel_ids):
    r, c = divmod(i, 4)
    x0 = col_left[c]
    y0 = strip_top[r]

    # strip
    sax = fig.add_axes(fig_rect(x0, y0, panel_w, strip_h))
    sax.set_facecolor("#D9D9D9")
    sax.set_xticks([])
    sax.set_yticks([])
    for s in sax.spines.values():
        s.set_visible(False)
    sax.text(0.5, 0.45, "ID: " + pid, ha="center", va="center_baseline",
             fontsize=SMALL, color="#1A1A1A", transform=sax.transAxes)

    ax = fig.add_axes(fig_rect(x0, y0 + strip_h, panel_w, panel_h))
    ax.set_facecolor("#EBEBEB")
    for s in ax.spines.values():
        s.set_visible(False)
    ax.set_xlim(-4, 524)
    ax.set_ylim(44.1, -1.8)
    ax.set_xticks([0, 100, 200, 300, 400, 500])
    ax.set_xticks([50, 150, 250, 350, 450], minor=True)
    ax.set_yticks([0, 10, 20, 30, 40])
    ax.set_yticks([5, 15, 25, 35], minor=True)
    ax.grid(which="major", color="white", linewidth=1.25)
    ax.grid(which="minor", color="white", linewidth=0.6)
    ax.set_axisbelow(True)
    ax.tick_params(which="minor", length=0)
    ax.tick_params(which="major", length=4, width=1.0, color="#333333",
                   labelsize=SMALL, labelcolor="#4D4D4D", pad=2.5)
    if c != 0:
        ax.tick_params(axis="y", left=False, labelleft=False)
    if r != 2:
        ax.tick_params(axis="x", bottom=False, labelbottom=False)

    profs = sorted(panels[i], key=lambda p: (stations.index(p[0]), casts.index(p[1])))
    for st, cast, xs, ys in profs:
        ax.plot(xs, ys, color=color_of[st], linestyle=dash_of[cast],
                linewidth=1.15, solid_joinstyle="round")

# ---- axis titles ----
fig.text(28 / W, 1 - 845 / H, "Depth (m)", rotation=90, ha="center", va="center",
         fontsize=BASE, color="black")
fig.text(624 / W, 1 - 1712 / H, r"pCO$_\mathrm{2}$ (µatm)", ha="center", va="center",
         fontsize=BASE, color="black")

# ---- legends ----
lax = fig.add_axes([0, 0, 1, 1], facecolor="none")
lax.set_xlim(0, W)
lax.set_ylim(H, 0)
lax.axis("off")

lax.text(1201, 455, "station", ha="left", va="center", fontsize=BASE, color="black")
for k, st in enumerate(stations):
    cy = 505 + k * 46.05
    lax.add_patch(Rectangle((1203.5, cy - 22), 43, 44, facecolor="#F2F2F2", edgecolor="white", linewidth=1))
    lax.plot([1207, 1243], [cy, cy], color=color_of[st], linewidth=1.15)
    lax.text(1261.5, cy, st, ha="left", va="center", fontsize=SMALL, color="black")

lax.text(1201, 1155, "cast", ha="left", va="center", fontsize=BASE, color="black")
for k, cast in enumerate(casts):
    cy = 1205 + k * 46.5
    lax.add_patch(Rectangle((1203.5, cy - 22), 43, 44, facecolor="#F2F2F2", edgecolor="white", linewidth=1))
    lax.plot([1207, 1243], [cy, cy], color="black", linestyle=dash_of[cast], linewidth=1.15)
    lax.text(1261.5, cy, cast, ha="left", va="center", fontsize=SMALL, color="black")

fig.savefig("out.png", dpi=100, facecolor="white")
